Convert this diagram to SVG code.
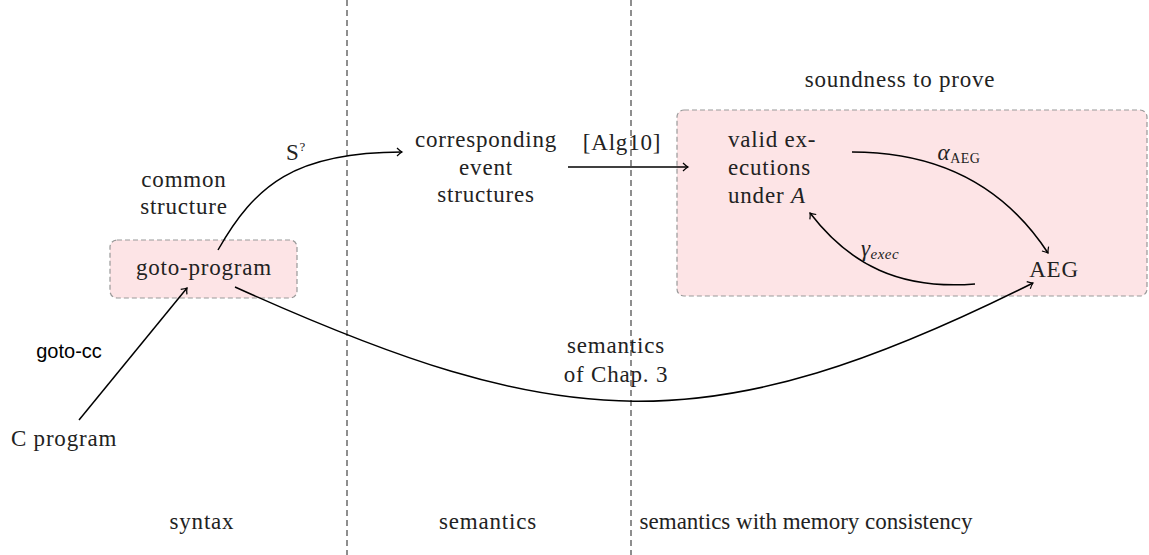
<svg xmlns="http://www.w3.org/2000/svg" width="1149" height="555" viewBox="0 0 1149 555">
<style>
text{font-family:"Liberation Serif","DejaVu Serif",serif;font-size:23px;letter-spacing:0.8px;fill:#222;text-anchor:middle}
.sans{font-family:"Liberation Sans","DejaVu Sans",sans-serif;font-size:20px;letter-spacing:0;fill:#000}
.sep{stroke:#444;stroke-width:1.2;stroke-dasharray:6,4;fill:none}
.box{fill:#fde4e6;stroke:#999;stroke-width:1.2;stroke-dasharray:5,3}
.edge{fill:none;stroke:#000;stroke-width:1.5;marker-end:url(#arr)}
</style>
<defs>
<marker id="arr" viewBox="-6 -5 8 10" refX="0" refY="0" markerWidth="8" markerHeight="10" markerUnits="userSpaceOnUse" orient="auto">
<path d="M-5,-4 Q-2,-1 0,0 Q-2,1 -5,4" fill="none" stroke="#000" stroke-width="1.2"/>
</marker>
</defs>
<g id="separators">
<line class="sep" x1="347" y1="0" x2="347" y2="555"/>
<line class="sep" x1="631" y1="0" x2="631" y2="555"/>
</g>
<g id="region-labels">
<text x="202" y="529">syntax</text>
<text x="488" y="529">semantics</text>
<text x="806" y="529" style="letter-spacing:0">semantics with memory consistency</text>
</g>
<g id="soundness-box">
<rect class="box" x="677" y="110" width="470" height="186" rx="7"/>
<text x="900" y="87">soundness to prove</text>
</g>
<g id="goto-program">
<rect class="box" x="110" y="240" width="187" height="58" rx="7"/>
<text x="204" y="275">goto-program</text>
</g>
<g id="common-structure">
<text x="184" y="187">common</text>
<text x="184" y="214">structure</text>
</g>
<g id="c-program">
<text x="64" y="446">C program</text>
</g>
<g id="event-structures">
<text x="486" y="147">corresponding</text>
<text x="486" y="175">event</text>
<text x="486" y="202">structures</text>
</g>
<g id="valid-executions">
<text x="728" y="147" style="text-anchor:start">valid ex-</text>
<text x="728" y="175" style="text-anchor:start">ecutions</text>
<text x="728" y="203" style="text-anchor:start">under <tspan font-style="italic">A</tspan></text>
</g>
<g id="aeg">
<text x="1054" y="277">AEG</text>
</g>
<g id="connectors">
<path class="edge" d="M79,420 L187,288"/>
<path class="edge" d="M218,250 C255,185 295,152 402,152"/>
<path class="edge" d="M568,167 L688,167"/>
<path class="edge" d="M852,152 C950,152 1010,195 1048,253"/>
<path class="edge" d="M975,284 C900,290 850,265 810,213"/>
<path class="edge" d="M235,287 C561,434 707,446 1033,283"/>
</g>
<g id="edge-labels">
<text class="sans" x="69" y="358">goto-cc</text>
<text x="296" y="160">S<tspan font-size="13" dy="-9">?</tspan></text>
<text x="622" y="150">[Alg10]</text>
<text x="959" y="160" style="letter-spacing:0.5px"><tspan font-style="italic" font-size="23">α</tspan><tspan font-size="14" dy="3">AEG</tspan></text>
<text x="880" y="256" style="letter-spacing:0.5px"><tspan font-style="italic" font-size="23">γ</tspan><tspan font-style="italic" font-size="15" dy="3">exec</tspan></text>
<text x="616" y="353">semantics</text>
<text x="616" y="382">of Chap. 3</text>
</g>
</svg>
